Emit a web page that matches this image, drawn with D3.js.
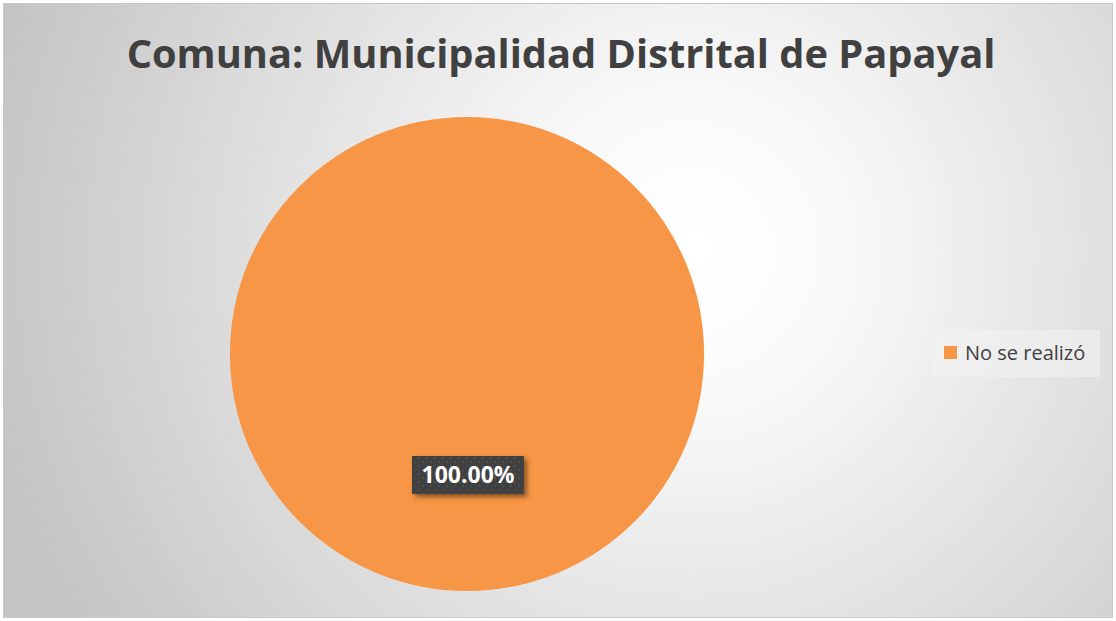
<!DOCTYPE html>
<html>
<head>
<meta charset="utf-8">
<script src="https://cdn.jsdelivr.net/npm/d3@7"></script>
<style>
  body { margin: 0; padding: 0; background: #fff; }
  svg { display: block; }
</style>
</head>
<body>
<svg width="1116" height="621"></svg>
<script>
var categorias = ["No se realizó"];
var valores = [100];
var colores = ["#F79646"];
var titulo = "Comuna: Municipalidad Distrital de Papayal";

var svg = d3.select("svg"),
    width = +svg.attr("width"),
    height = +svg.attr("height");

var defs = svg.append("defs");

// fondo degradado radial
var grad = defs.append("radialGradient")
  .attr("id", "fondo")
  .attr("gradientUnits", "userSpaceOnUse")
  .attr("cx", 690).attr("cy", 250).attr("r", 720);
grad.append("stop").attr("offset", "0%").attr("stop-color", "#ffffff");
grad.append("stop").attr("offset", "20%").attr("stop-color", "#fafafa");
grad.append("stop").attr("offset", "100%").attr("stop-color", "#c4c4c4");

// patron de puntos de la etiqueta
var pat = defs.append("pattern")
  .attr("id", "puntos")
  .attr("patternUnits", "userSpaceOnUse")
  .attr("width", 8).attr("height", 8);
pat.append("rect").attr("width", 8).attr("height", 8).attr("fill", "#404040");
pat.append("rect").attr("x", 2).attr("y", 2).attr("width", 2).attr("height", 2).attr("fill", "#4d4d4d");
pat.append("rect").attr("x", 6).attr("y", 6).attr("width", 2).attr("height", 2).attr("fill", "#4d4d4d");

var sombra = defs.append("filter").attr("id", "sombra")
  .attr("x", "-20%").attr("y", "-20%").attr("width", "150%").attr("height", "160%");
sombra.append("feDropShadow")
  .attr("dx", 3).attr("dy", 3).attr("stdDeviation", 2.5)
  .attr("flood-color", "#000").attr("flood-opacity", 0.45);

svg.append("rect")
  .attr("x", 3.5).attr("y", 3.5)
  .attr("width", width - 7).attr("height", height - 7)
  .attr("fill", "url(#fondo)")
  .attr("stroke", "#c8c8c8").attr("stroke-width", 1);

svg.append("text")
  .attr("x", 561).attr("y", 68)
  .attr("text-anchor", "middle")
  .attr("font-family", "'Open Sans', 'Noto Sans', sans-serif")
  .attr("font-weight", "bold")
  .attr("font-size", 39.8)
  .attr("fill", "#404040")
  .text(titulo);

// PASTEL
var cx = 467, cy = 354, radio = 237;

var pie = d3.pie().sort(null).value(function(d) { return d; });
var arc = d3.arc().innerRadius(0).outerRadius(radio);
var color = d3.scaleOrdinal().domain(categorias).range(colores);

var g = svg.append("g").attr("transform", "translate(" + cx + "," + cy + ")");
var arcos = pie(valores);

g.selectAll("path")
  .data(arcos)
  .enter().append("path")
  .attr("d", arc)
  .attr("fill", function(d, i) { return color(categorias[i]); });

var total = d3.sum(valores);
var formato = function(v) { return (v / total * 100).toFixed(2) + "%"; };

// etiqueta de datos
arcos.forEach(function(d) {
  var lx = 1, ly = 121;
  var etiqueta = g.append("g").attr("transform", "translate(" + lx + "," + ly + ")");
  etiqueta.append("rect")
    .attr("x", -56).attr("y", -19)
    .attr("width", 112).attr("height", 38)
    .attr("fill", "url(#puntos)")
    .attr("filter", "url(#sombra)");
  etiqueta.append("text")
    .attr("text-anchor", "middle")
    .attr("dy", "0.35em")
    .attr("font-family", "'Open Sans', 'Noto Sans', sans-serif")
    .attr("font-weight", "bold")
    .attr("font-size", 23)
    .attr("fill", "#ffffff")
    .text(formato(d.value));
});

// LEYENDA
var leyenda = svg.append("g").attr("transform", "translate(932,330)");
leyenda.append("rect")
  .attr("width", 168).attr("height", 47)
  .attr("fill", "#f2f2f2").attr("opacity", 0.6);
var items = leyenda.selectAll(".item")
  .data(categorias)
  .enter().append("g")
  .attr("class", "item")
  .attr("transform", function(d, i) { return "translate(12," + (16 + i * 24) + ")"; });
items.append("rect")
  .attr("width", 13).attr("height", 13)
  .attr("fill", function(d) { return color(d); });
items.append("text")
  .attr("x", 21).attr("y", 7)
  .attr("dy", "0.35em")
  .attr("font-family", "'Open Sans', 'Noto Sans', sans-serif")
  .attr("font-size", 20)
  .attr("fill", "#404040")
  .text(function(d) { return d; });
</script>
</body>
</html>
